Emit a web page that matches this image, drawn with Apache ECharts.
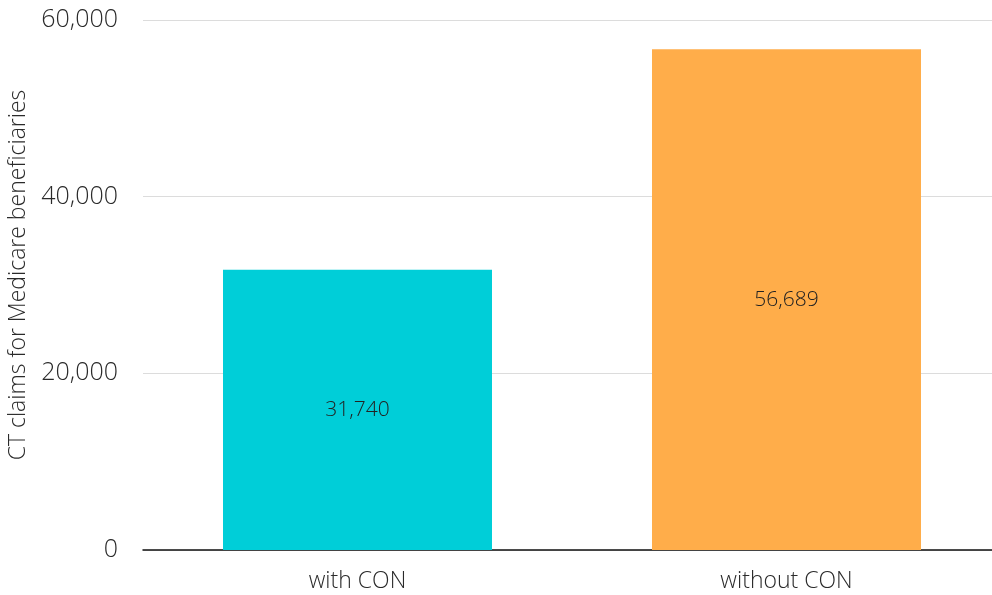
<!DOCTYPE html>
<html>
<head>
<meta charset="utf-8">
<script src="https://cdn.jsdelivr.net/npm/echarts@6/dist/echarts.min.js"></script>
<style>
html, body { margin: 0; padding: 0; background: #fff; }
#chart { width: 992px; height: 595px; }
</style>
</head>
<body>
<div id="chart"></div>
<script>
const categories = ['with CON', 'without CON']
const claims = [31740, 56689]
const barColors = ['#00CED8', '#FFAD4A']
const yTicks = [0, 20000, 40000, 60000]

const font = '"Open Sans", Lato, sans-serif'
const chart = echarts.init(document.getElementById('chart'))

chart.setOption({
  animation: false,
  textStyle: { fontFamily: font },
  // plot runs a little past the right edge, like the original
  grid: { left: 143, width: 858, top: 20, bottom: 45, containLabel: false, outerBoundsMode: 'none' },
  xAxis: {
    type: 'category',
    data: categories,
    axisTick: { show: false },
    axisLine: { lineStyle: { color: '#111', width: 1.5 } },
    axisLabel: { color: '#2a2a2a', fontSize: 23, fontWeight: 300, margin: 20, fontFamily: font }
  },
  yAxis: {
    type: 'value',
    min: yTicks[0],
    max: yTicks[yTicks.length - 1],
    interval: 20000,
    name: 'CT claims for Medicare beneficiaries',
    nameLocation: 'middle',
    nameGap: 106,
    nameTextStyle: { color: '#2a2a2a', fontSize: 23, fontWeight: 300, fontFamily: font, padding: [0, 0, 0, 20] },
    axisLine: { show: false },
    axisTick: { show: false },
    splitLine: { lineStyle: { color: '#dcdcdc', width: 1 } },
    axisLabel: {
      color: '#2a2a2a',
      fontSize: 25,
      fontWeight: 300,
      margin: 25,
      fontFamily: font,
      formatter: v => v.toLocaleString('en-US')
    }
  },
  series: [{
    type: 'bar',
    barWidth: 269,
    data: claims.map((v, i) => ({ value: v, itemStyle: { color: barColors[i] } })),
    label: {
      show: true,
      position: 'inside',
      color: '#222',
      fontSize: 21,
      fontWeight: 300,
      fontFamily: font,
      formatter: p => p.value.toLocaleString('en-US')
    }
  }]
})
</script>
</body>
</html>
